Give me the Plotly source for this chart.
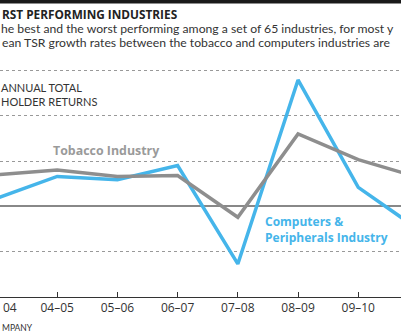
import plotly.graph_objects as go

periods = ["03–04", "04–05", "05–06", "06–07", "07–08", "08–09", "09–10", "10–11"]
tobacco = [7.0, 8.0, 6.6, 6.8, -2.4, 16.0, 10.3, 6.4]
computers = [1.8, 6.6, 5.9, 9.0, -12.7, 27.9, 4.2, -5.1]
grid_vals = [-10, 0, 10, 20, 30]

W, H = 401, 335
PT, PB = 60, 297  # plot area top / bottom in px


def py(p):
    return (PB - p) / (PB - PT)


idx = list(range(len(periods)))
SANS = "Lato"
WIDE = "Open Sans"
BLUE = "#45b5ea"
GRAY = "#8e8e8e"

fig = go.Figure()
fig.add_trace(go.Scatter(x=idx, y=computers, mode="lines",
                         line=dict(color=BLUE, width=3.5), hoverinfo="skip"))
fig.add_trace(go.Scatter(x=idx, y=tobacco, mode="lines",
                         line=dict(color=GRAY, width=3.5), hoverinfo="skip"))

annotations = [
    dict(text="<b>RST PERFORMING INDUSTRIES</b>", x=0, y=py(14), xanchor="left",
         font=dict(family=WIDE, size=11.8, color="#222")),
    dict(text="he best and the worst performing among a set of 65 industries, for most y",
         x=-0.003, y=py(28), xanchor="left", font=dict(size=12.2, color="#333")),
    dict(text="ean TSR growth rates between the tobacco and computers industries are",
         x=0, y=py(42), xanchor="left", font=dict(size=12.2, color="#333")),
    dict(text="ANNUAL TOTAL<br>HOLDER RETURNS", x=-0.003, y=py(94), xanchor="left",
         align="left", font=dict(size=11, color="#333")),
    dict(text="<b>Tobacco Industry</b>", x=107 / W, y=py(150), xanchor="center",
         font=dict(family=WIDE, size=12.4, color="#9a9a9a")),
    dict(text="<b>Computers &amp;<br>Peripherals Industry</b>", x=263 / W, y=py(229),
         xanchor="left", align="left", font=dict(family=WIDE, size=12, color=BLUE)),
    dict(text=periods[0].split("–")[1], x=1 / W, y=py(307), xanchor="left",
         font=dict(family=WIDE, size=12, color="#333")),
    dict(text="MPANY", x=0, y=py(328), xanchor="left", font=dict(size=8.5, color="#333")),
]
for a in annotations:
    a["xref"] = "paper"
    a["yref"] = "paper"
    a["yanchor"] = "middle"
    a["showarrow"] = False

fig.update_layout(
    width=W, height=H,
    margin=dict(l=0, r=0, t=PT, b=H - PB),
    paper_bgcolor="white", plot_bgcolor="white",
    showlegend=False,
    font=dict(family=SANS, color="#333"),
    annotations=annotations,
    shapes=[dict(type="rect", xref="paper", yref="paper", x0=0, x1=1,
                 y0=py(3.5), y1=py(-1), fillcolor="#1a1a1a", line_width=0)],
    xaxis=dict(range=[0.05, 6.71], tickvals=idx, ticktext=periods,
               showgrid=False, zeroline=False, showline=True, linecolor="#333",
               linewidth=1, ticks="inside", ticklen=5, tickcolor="#333",
               tickfont=dict(family=WIDE, size=12, color="#333"), fixedrange=True),
    yaxis=dict(range=[-20, 32.3], tickvals=grid_vals, showticklabels=False,
               showgrid=True, gridcolor="#999", griddash="dot", gridwidth=1,
               zeroline=True, zerolinecolor="#888", zerolinewidth=2,
               fixedrange=True),
)

fig.write_html("out.html", config={"displayModeBar": False})
